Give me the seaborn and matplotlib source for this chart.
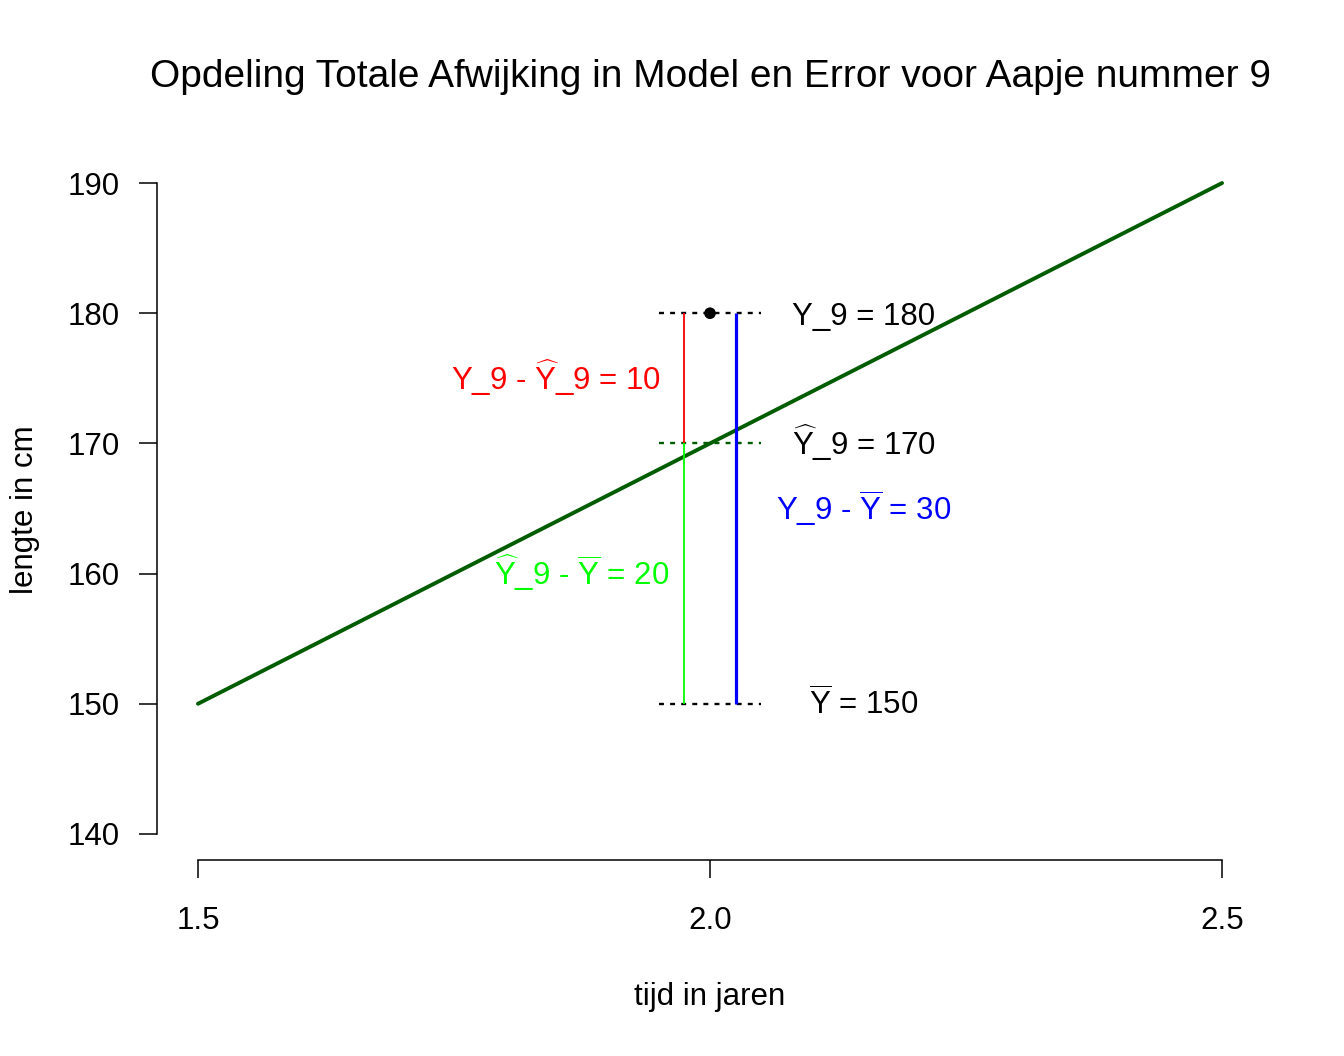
import matplotlib
matplotlib.use("Agg")
import matplotlib.pyplot as plt
import matplotlib.transforms as mtransforms
import seaborn as sns
import pandas as pd

# regression line (tijd -> lengte)
line_x = [1.5, 2.5]
line_y = [150, 190]

# aapje nummer 9
x_obs = 2.0
y_obs = 180
y_hat = 170
y_bar = 150

x_ticks = [1.5, 2.0, 2.5]
x_ticklabels = ["1.5", "2.0", "2.5"]
y_ticks = [140, 150, 160, 170, 180, 190]

sns.set_style("ticks")
plt.rcParams['font.family'] = ['Liberation Sans', 'DejaVu Sans']
plt.rcParams['text.color'] = 'black'
plt.rcParams['mathtext.fontset'] = 'custom'
plt.rcParams['mathtext.rm'] = 'Liberation Sans'
plt.rcParams['mathtext.it'] = 'Liberation Sans'

dkgreen = '#005c00'

fig = plt.figure(figsize=(13.44, 10.56), dpi=100)
ax = fig.add_axes([157 / 1344, 1 - 860 / 1056, (1263 - 157) / 1344, (860 - 157) / 1056])

df_line = pd.DataFrame({'tijd': line_x, 'lengte': line_y})
sns.lineplot(data=df_line, x='tijd', y='lengte', color=dkgreen, linewidth=2.8,
             solid_capstyle='round', ax=ax)

dots = (0, (2.1, 2.6))
ax.hlines(y_obs, x_obs - 0.05, x_obs + 0.05, colors='black', linestyles=[dots], linewidth=1.7)
ax.hlines(y_hat, x_obs - 0.05, x_obs + 0.05, colors=dkgreen, linestyles=[dots], linewidth=1.7)
ax.hlines(y_bar, x_obs - 0.05, x_obs + 0.05, colors='black', linestyles=[dots], linewidth=1.7)

ax.vlines(x_obs - 0.025, y_hat, y_obs, colors='#FF0000', linewidth=1.3)
ax.vlines(x_obs - 0.025, y_bar, y_hat, colors='#00FF00', linewidth=1.3)
ax.vlines(x_obs + 0.025, y_bar, y_obs, colors='#0000FF', linewidth=2.3)

sns.scatterplot(x=[x_obs], y=[y_obs], color='black', s=70, edgecolor='none', ax=ax, zorder=5)

# labels, centred on the letter body like R's text()
tr = mtransforms.offset_copy(ax.transData, fig=fig, x=0, y=-11.5, units='dots')
fs = 22.5
Yhat = r"$\widehat{\mathrm{Y}}$"
Ybar = r"$\overline{\mathrm{Y}}$"
ax.text(2.15, y_obs, "Y_9 = %d" % y_obs, transform=tr, ha='center', va='baseline', fontsize=fs)
ax.text(2.15, y_hat, Yhat + "_9 = %d" % y_hat, transform=tr, ha='center', va='baseline', fontsize=fs)
ax.text(2.15, y_bar, Ybar + " = %d" % y_bar, transform=tr, ha='center', va='baseline', fontsize=fs)
ax.text(2.15, 165, "Y_9 - " + Ybar + " = %d" % (y_obs - y_bar), transform=tr,
        ha='center', va='baseline', fontsize=fs, color='#0000FF')
ax.text(1.85, 175, "Y_9 - " + Yhat + "_9 = %d" % (y_obs - y_hat), transform=tr,
        ha='center', va='baseline', fontsize=fs, color='#FF0000')
ax.text(1.875, 160, Yhat + "_9 - " + Ybar + " = %d" % (y_hat - y_bar), transform=tr,
        ha='center', va='baseline', fontsize=fs, color='#00FF00')

ax.set_xlim(1.46, 2.54)
ax.set_ylim(138, 192)
ax.set_xticks(x_ticks)
ax.set_xticklabels(x_ticklabels)
ax.set_yticks(y_ticks)
ax.set_xlabel("")
ax.set_ylabel("")
ax.tick_params(axis='both', direction='out', length=13, width=1.1, labelsize=fs,
               color='black', labelcolor='black')
ax.tick_params(axis='y', pad=14)
ax.tick_params(axis='x', pad=20)
for side in ['top', 'right']:
    ax.spines[side].set_visible(False)
for side in ['left', 'bottom']:
    ax.spines[side].set_linewidth(1.1)
    ax.spines[side].set_color('black')
ax.spines['left'].set_bounds(140, 190)
ax.spines['bottom'].set_bounds(1.5, 2.5)

fig.text(710 / 1344, 1 - 77 / 1056, "Opdeling Totale Afwijking in Model en Error voor Aapje nummer 9",
         ha='center', va='center', fontsize=28)
fig.text(710 / 1344, 1 - 997 / 1056, "tijd in jaren", ha='center', va='center', fontsize=fs)
fig.text(25 / 1344, 1 - 510 / 1056, "lengte in cm", ha='center', va='center', fontsize=fs, rotation=90)

fig.savefig("out.png", dpi=100)
